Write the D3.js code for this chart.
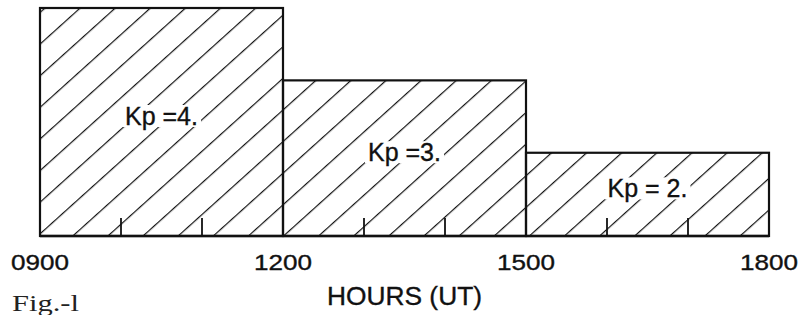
<!DOCTYPE html>
<html>
<head>
<meta charset="utf-8">
<script src="https://cdn.jsdelivr.net/npm/d3@7"></script>
<style>
  body { margin: 0; background: #fff; }
  text { font-family: "Liberation Sans", Arial, sans-serif; fill: #111; stroke: #111; stroke-width: 0.35px; }
</style>
</head>
<body>
<div id="graph"></div>
<script>
// data
let startHours = [9, 12, 15];
let endHours = [12, 15, 18];
let kpValues = [4, 3, 2];
let kpLabels = ['Kp =4.', 'Kp =3.', 'Kp = 2.'];
let majorHours = [9, 12, 15, 18];
let tickLabels = ['0900', '1200', '1500', '1800'];
let minorHours = [10, 11, 13, 14, 16, 17];

let width = 802;
let height = 315;

let x = d3.scaleLinear().domain([9, 18]).range([40, 769]);
let y = d3.scaleLinear().domain([0.85, 4]).range([236, 8]);

let svg = d3.select('#graph')
    .append('svg')
        .attr('width', width)
        .attr('height', height);

// diagonal hatching
let defs = svg.append('defs');
let pat = defs.append('pattern')
    .attr('id', 'hatch')
    .attr('patternUnits', 'userSpaceOnUse')
    .attr('width', 23.5)
    .attr('height', 20)
    .attr('x', 12)
    .attr('patternTransform', 'rotate(48)');
pat.append('line')
    .attr('x1', 0).attr('y1', 0)
    .attr('x2', 0).attr('y2', 20)
    .attr('stroke', '#111')
    .attr('stroke-width', 2.4);

let bars = startHours.map((s, i) => ({ start: s, end: endHours[i], kp: kpValues[i], label: kpLabels[i] }));

svg.selectAll('.bar')
        .data(bars)
    .enter().append('rect')
        .attr('class', 'bar')
        .attr('x', d => x(d.start))
        .attr('width', d => x(d.end) - x(d.start))
        .attr('y', d => y(d.kp))
        .attr('height', d => y.range()[0] - y(d.kp))
        .attr('fill', 'url(#hatch)')
        .attr('stroke', '#111')
        .attr('stroke-width', 2.2);

// labels inside the bars
svg.selectAll('.kp')
        .data(bars)
    .enter().append('text')
        .attr('class', 'kp')
        .attr('x', d => (x(d.start) + x(d.end)) / 2)
        .attr('y', d => (y(d.kp) + y.range()[0]) / 2 + 3)
        .attr('text-anchor', 'middle')
        .attr('font-size', 25)
        .text(d => d.label)
        .each(function () {
            // white gap behind the label like the original
            let b = this.getBBox();
            d3.select(this.parentNode).insert('rect', function () { return this; }.bind(this))
                .attr('x', b.x - 3).attr('y', b.y + 3)
                .attr('width', b.width + 6).attr('height', b.height - 6)
                .attr('fill', '#fff');
        });

// baseline
svg.append('line')
    .attr('x1', x(9)).attr('x2', x(18))
    .attr('y1', y.range()[0]).attr('y2', y.range()[0])
    .attr('stroke', '#111')
    .attr('stroke-width', 2.4);

// hourly ticks pointing up
svg.selectAll('.minor')
        .data(minorHours)
    .enter().append('line')
        .attr('class', 'minor')
        .attr('x1', d => x(d)).attr('x2', d => x(d))
        .attr('y1', y.range()[0]).attr('y2', y.range()[0] - 18)
        .attr('stroke', '#111')
        .attr('stroke-width', 1.8);

svg.selectAll('.tick')
        .data(majorHours)
    .enter().append('text')
        .attr('class', 'tick')
        .attr('x', d => x(d))
        .attr('y', 270)
        .attr('text-anchor', 'middle')
        .attr('font-size', 22)
        .attr('textLength', 58)
        .attr('lengthAdjust', 'spacingAndGlyphs')
        .text((d, i) => tickLabels[i]);

svg.append('text')
    .attr('x', (x(9) + x(18)) / 2)
    .attr('y', 305)
    .attr('text-anchor', 'middle')
    .attr('font-size', 25)
    .attr('textLength', 155)
    .attr('lengthAdjust', 'spacingAndGlyphs')
    .text('HOURS (UT)');

svg.append('text')
    .attr('x', 12)
    .attr('y', 311)
    .style('font-family', '"Liberation Serif", "Times New Roman", serif')
    .style('stroke-width', '0px')
    .style('fill', '#222')
    .attr('font-size', 24)
    .attr('textLength', 67)
    .attr('lengthAdjust', 'spacingAndGlyphs')
    .text('Fig.-l');
</script>
</body>
</html>
